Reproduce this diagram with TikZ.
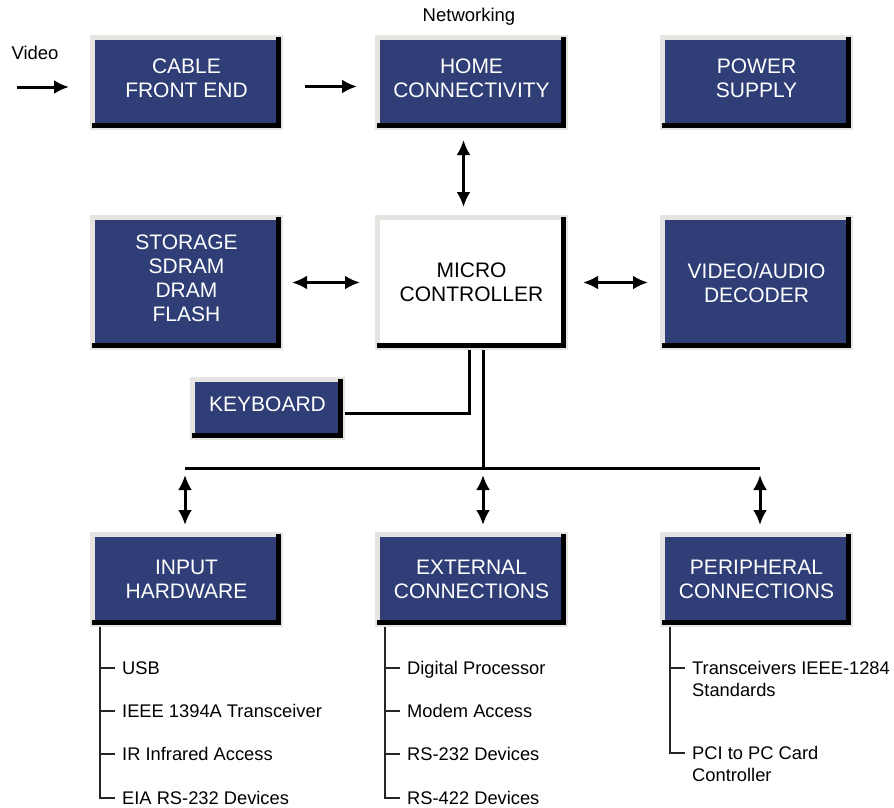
\documentclass[tikz,border=0pt]{standalone}
\usepackage{fontspec}
\setmainfont{Liberation Sans}
\usetikzlibrary{arrows.meta}
\definecolor{panelblue}{RGB}{47,62,118}
\definecolor{bevel}{RGB}{230,228,224}

\begin{document}
\begin{tikzpicture}[x=1pt,y=-1pt,
    panel/.style={draw=bevel, line width=5pt, fill=panelblue, text=white, align=center,
      minimum width=188, minimum height=90, font=\fontsize{21}{24}\selectfont},
    raised/.style={text depth=8},
    panelshadow/.style={draw=black, line width=5pt},
    dbl/.style={{Latex[length=15,width=14]}-{Latex[length=15,width=14]}, line width=3pt},
    sgl/.style={-{Latex[length=15,width=14]}, line width=3pt},
    wire/.style={line width=3pt},
    tree/.style={draw=black!85, line width=2pt},
    item/.style={anchor=north west, inner xsep=7, inner ysep=0, align=left,
      font=\fontsize{18.3}{21.5}\selectfont},
    caption/.style={font=\fontsize{18.5}{22}\selectfont}]

    \useasboundingbox (0,0) rectangle (894,808);

    \node[caption] (videolbl) at (35,53) {Video};
    \node[caption] (netlbl) at (469,17) {Networking};
    \coordinate (videoin) at (17,87);

    \node[panel, raised] (cable) at (186.5,82.5) {CABLE\\FRONT END};
    \node[panel, raised] (home) at (471.5,82.5) {HOME\\CONNECTIVITY};
    \node[panel, raised] (power) at (756.5,82.5) {POWER\\SUPPLY};

    \node[panel, raised, minimum height=130] (storage) at (186.5,282.5) {STORAGE\\SDRAM\\DRAM\\FLASH};
    \node[panel, minimum height=130, fill=white, text=black] (micro) at (471.5,282.5) {MICRO\\CONTROLLER};
    \node[panel, minimum height=130] (decoder) at (756.5,282.5) {VIDEO/AUDIO\\DECODER};

    \node[panel, raised, minimum width=150, minimum height=58] (keyboard) at (267.5,408.5) {KEYBOARD};

    \node[panel] (input) at (186.5,579.5) {INPUT\\HARDWARE};
    \node[panel] (external) at (471.5,579.5) {EXTERNAL\\CONNECTIONS};
    \node[panel] (peripheral) at (756.5,579.5) {PERIPHERAL\\CONNECTIONS};

    \foreach \b in {cable,home,power,storage,micro,decoder,keyboard,input,external,peripheral}
      \draw[panelshadow] ([shift={(2,-4.5)}]\b.south west) -- ([shift={(-5,-4.5)}]\b.south east)
        -- ([shift={(-5,2)}]\b.north east);

    \draw[sgl] (videoin) -- ([shift={(-21,4.5)}]cable.west);
    \draw[sgl] ([shift={(22,4)}]cable.east) -- ([shift={(-18,4)}]home.west);
    \draw[dbl] ([shift={(-8,10)}]home.south) -- ([shift={(-8,-8)}]micro.north);
    \draw[dbl] ([xshift=9]storage.east) -- ([xshift=-15]micro.west);
    \draw[dbl] ([xshift=15]micro.east) -- ([xshift=-12]decoder.west);

    \coordinate (busL) at (185,468);
    \coordinate (busM) at (483,468);
    \coordinate (busR) at (760,468);

    \draw[wire] ([xshift=-2.5]micro.south) |- ([yshift=-4.5]keyboard.east);
    \draw[wire] ([xshift=11.5]micro.south) -- (busM);
    \draw[wire] (busL) -- (busR);

    \draw[dbl, shorten >=7] ([yshift=-7]busL) -- (busL |- input.north);
    \draw[dbl, shorten >=7] ([yshift=-7]busM) -- (busM |- external.north);
    \draw[dbl, shorten >=7] ([yshift=-7]busR) -- (busR |- peripheral.north);

    \node[item] (usb) at (115,661.5) {USB};
    \node[item] (ieee) at (115,704.5) {IEEE 1394A Transceiver};
    \node[item] (infrared) at (115,747.5) {IR Infrared Access};
    \node[item] (eia) at (115,791.5) {EIA RS-232 Devices};
    \draw[tree] ([xshift=10]input.south west) |- ([yshift=-6.5]eia.north west);
    \foreach \i in {usb,ieee,infrared}
      \draw[tree] ([xshift=-15,yshift=-6.5]\i.north west) -- ([yshift=-6.5]\i.north west);

    \node[item] (digital) at (400,661.5) {Digital Processor};
    \node[item] (modem) at (400,704.5) {Modem Access};
    \node[item] (rsa) at (400,747.5) {RS-232 Devices};
    \node[item] (rsb) at (400,791.5) {RS-422 Devices};
    \draw[tree] ([xshift=10]external.south west) |- ([yshift=-6.5]rsb.north west);
    \foreach \i in {digital,modem,rsa}
      \draw[tree] ([xshift=-15,yshift=-6.5]\i.north west) -- ([yshift=-6.5]\i.north west);

    \node[item] (xcvr) at (685,661.5) {Transceivers IEEE-1284\\Standards};
    \node[item] (pci) at (685,746.5) {PCI to PC Card\\Controller};
    \draw[tree] ([xshift=10]peripheral.south west) |- ([yshift=-6.5]pci.north west);
    \draw[tree] ([xshift=-15,yshift=-6.5]xcvr.north west) -- ([yshift=-6.5]xcvr.north west);
\end{tikzpicture}
\end{document}
